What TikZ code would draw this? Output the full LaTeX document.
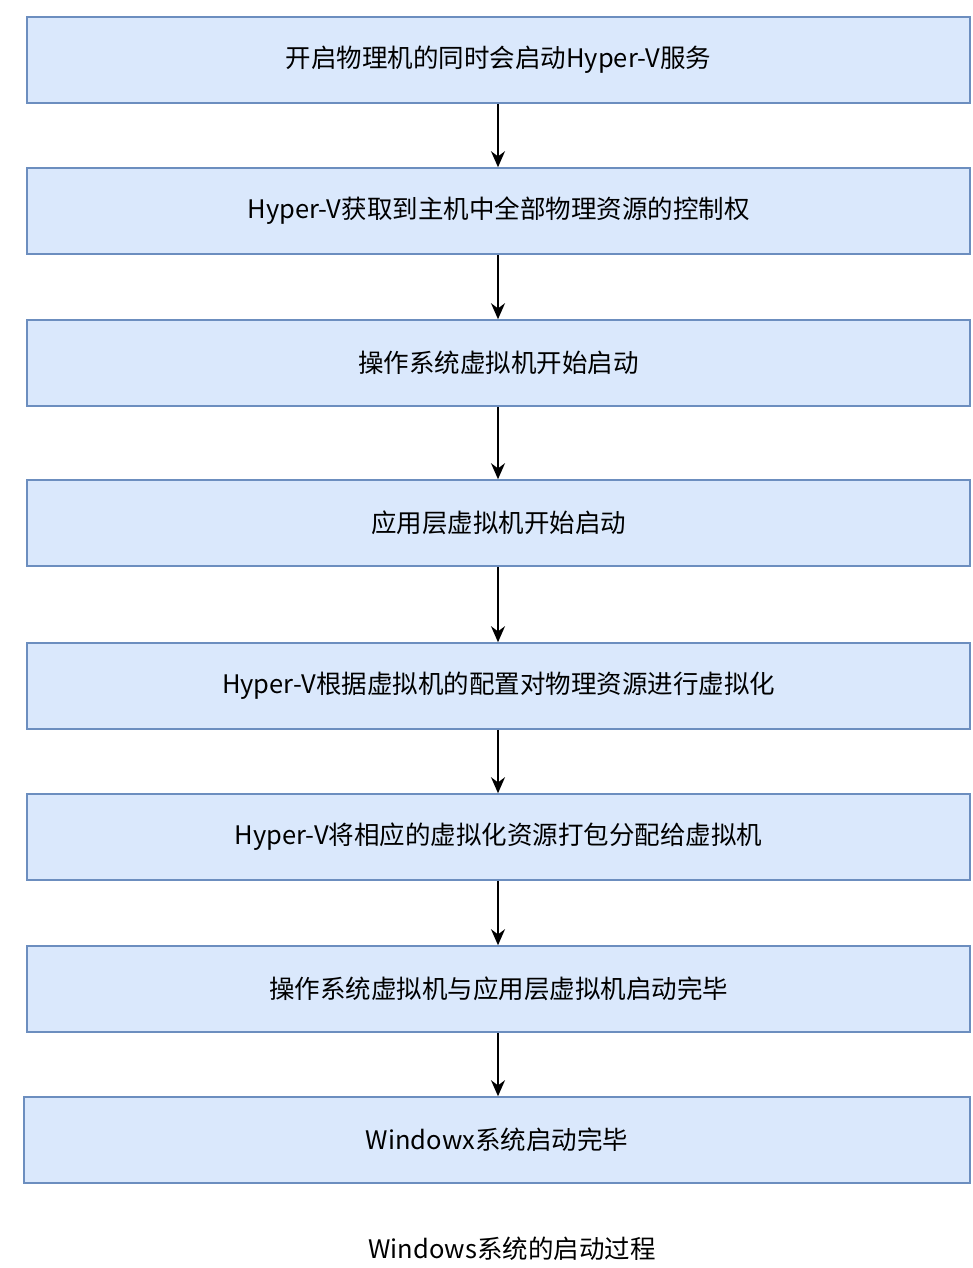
\documentclass[tikz,border=0pt]{standalone}
\usepackage{fontspec}
\setmainfont{Noto Sans CJK SC}
\usetikzlibrary{arrows.meta,positioning}
\definecolor{stepfill}{HTML}{DAE8FC}
\definecolor{stepline}{HTML}{6C8EBF}
\tikzset{
  flow/stepbox/.style={draw=stepline, fill=stepfill, line width=1.6pt, minimum width=943pt, minimum height=86pt, align=center, font=\fontsize{25.5}{30}\selectfont, inner sep=0pt},
  flow/arr/.style={-{Stealth[length=16pt,width=14pt]}, line width=1.4pt, black},
  flow/caption/.style={font=\fontsize{25.5}{30}\selectfont, inner sep=0pt}
}

\begin{document}
\begin{tikzpicture}[x=1pt, y=-1pt]
\useasboundingbox (0,0) rectangle (972,1268);
\node[flow/stepbox] (s1) at (498.5,60) {开启物理机的同时会启动Hyper-V服务};
\node[flow/stepbox] (s2) at (498.5,211) {Hyper-V获取到主机中全部物理资源的控制权};
\node[flow/stepbox] (s3) at (498.5,363) {操作系统虚拟机开始启动};
\node[flow/stepbox] (s4) at (498.5,523) {应用层虚拟机开始启动};
\node[flow/stepbox] (s5) at (498.5,686) {Hyper-V根据虚拟机的配置对物理资源进行虚拟化};
\node[flow/stepbox] (s6) at (498.5,837) {Hyper-V将相应的虚拟化资源打包分配给虚拟机};
\node[flow/stepbox] (s7) at (498.5,989) {操作系统虚拟机与应用层虚拟机启动完毕};
\node[flow/stepbox, minimum width=946pt] (s8) at (497,1140) {Windowx系统启动完毕};
\node[flow/caption] (cap) at (512,1249) {Windows系统的启动过程};
\foreach \a/\b in {s1/s2,s2/s3,s3/s4,s4/s5,s5/s6,s6/s7,s7/s8}
  \draw[flow/arr] (\a.south -| 498,0) -- (\b.north -| 498,0);
\end{tikzpicture}
\end{document}
